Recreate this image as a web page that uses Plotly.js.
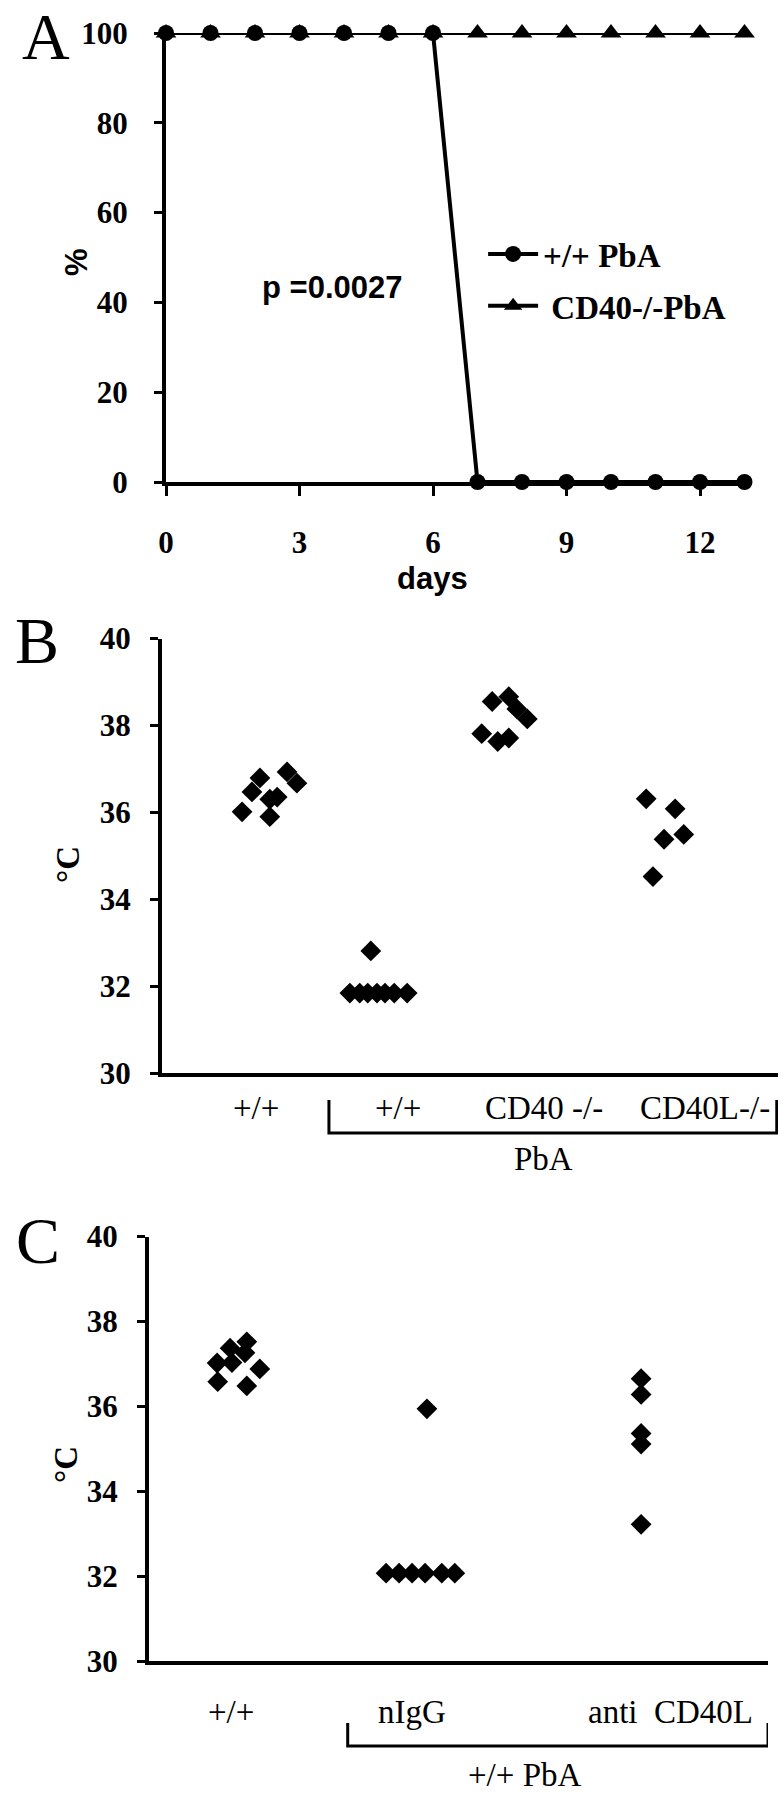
<!DOCTYPE html>
<html>
<head>
<meta charset="utf-8">
<script src="https://cdn.plot.ly/plotly-3.0.1.min.js"></script>
<style>
  body { margin: 0; background: #fff; }
  #chart { width: 783px; height: 1800px; }
</style>
</head>
<body>
<div id="chart"></div>
<script>
// Panel A: survival (%) by day
const days = [0, 1, 2, 3, 4, 5, 6, 7, 8, 9, 10, 11, 12, 13];
const wtSurvival = [100, 100, 100, 100, 100, 100, 100, 0, 0, 0, 0, 0, 0, 0];
const cd40Survival = [100, 100, 100, 100, 100, 100, 100, 100, 100, 100, 100, 100, 100, 100];

// Panel B: body temperature (°C), x = position along the axis (0-10)
const bCtrlX = [1.30, 1.46, 1.59, 1.75, 1.75, 1.87, 2.03, 2.19];
const bCtrlT = [36.01, 36.47, 36.79, 35.90, 36.30, 36.35, 36.93, 36.67];
const bWtX = [3.39, 3.05, 3.21, 3.34, 3.49, 3.62, 3.77, 3.98];
const bWtT = [32.81, 31.84, 31.84, 31.84, 31.84, 31.84, 31.84, 31.84];
const bCd40X = [5.19, 5.36, 5.45, 5.63, 5.63, 5.76, 5.93];
const bCd40T = [37.81, 38.55, 37.63, 38.66, 37.71, 38.38, 38.15];
const bCd40lX = [7.86, 8.33, 8.15, 8.47, 7.97];
const bCd40lT = [36.31, 36.08, 35.38, 35.49, 34.52];
const bLabels = ['+/+', '+/+', 'CD40 -/-', 'CD40L-/-'];
const bLabelX = [1.53, 3.83, 6.20, 8.82];

// Panel C: body temperature (°C)
const cCtrlX = [1.58, 1.31, 1.55, 1.10, 1.34, 1.79, 1.11, 1.58];
const cCtrlT = [37.52, 37.37, 37.26, 37.02, 37.03, 36.88, 36.58, 36.48];
const cIggX = [4.49, 3.83, 4.04, 4.25, 4.46, 4.73, 4.94];
const cIggT = [35.94, 32.07, 32.07, 32.07, 32.07, 32.07, 32.07];
const cAntiX = [7.95, 7.95, 7.95, 7.95, 7.95];
const cAntiT = [36.65, 36.28, 35.36, 35.11, 33.22];
const cLabels = ['+/+', 'nIgG', 'anti  CD40L'];
const cLabelX = [1.32, 4.25, 8.43];

const serif = 'Liberation Serif, Times New Roman, serif';
const sans = 'Liberation Sans, Arial, sans-serif';
const H = 1800;
const py = px => 1 - px / H;

function dots(x, y, xa, ya) {
    return {
        x: x, y: y, xaxis: xa, yaxis: ya,
        type: 'scatter', mode: 'markers', showlegend: false, cliponaxis: false,
        marker: { symbol: 'diamond', size: 16, color: '#000' },
        hoverinfo: 'x+y'
    };
}

const data = [
    {
        x: days, y: wtSurvival, name: '+/+ PbA', legendgroup: 'a',
        type: 'scatter', mode: 'lines+markers', cliponaxis: false,
        line: { color: '#000', width: 4 },
        marker: { symbol: 'circle', size: 16, color: '#000' }
    },
    {
        x: days, y: cd40Survival, name: ' CD40-/-PbA', legendgroup: 'b',
        type: 'scatter', mode: 'lines+markers', cliponaxis: false,
        line: { color: '#000', width: 4 },
        marker: { symbol: 'triangle-up', size: 18, color: '#000' }
    },
    dots(bCtrlX, bCtrlT, 'x2', 'y2'),
    dots(bWtX, bWtT, 'x2', 'y2'),
    dots(bCd40X, bCd40T, 'x2', 'y2'),
    dots(bCd40lX, bCd40lT, 'x2', 'y2'),
    dots(cCtrlX, cCtrlT, 'x3', 'y3'),
    dots(cIggX, cIggT, 'x3', 'y3'),
    dots(cAntiX, cAntiT, 'x3', 'y3')
];

const tickFont = { family: serif, size: 31, color: '#000', weight: 'bold' };
const axisLine = { showline: true, linecolor: '#000', linewidth: 4, showgrid: false, zeroline: false };

const layout = {
    width: 783, height: 1800,
    margin: { l: 0, r: 0, t: 0, b: 0 },
    paper_bgcolor: '#fff', plot_bgcolor: '#fff',
    showlegend: true,
    legend: {
        x: 0.617, y: py(226), xanchor: 'left', yanchor: 'top',
        font: { family: serif, size: 33, color: '#000', weight: 'bold' },
        tracegroupgap: 6, itemwidth: 50, bgcolor: 'rgba(0,0,0,0)'
    },
    xaxis: Object.assign({}, axisLine, {
        domain: [166 / 783, 744.5 / 783], anchor: 'y', range: [0, 13],
        tickvals: [0, 3, 6, 9, 12], ticks: 'outside', ticklen: 10, tickwidth: 3,
        tickcolor: '#000', tickfont: tickFont, ticklabelstandoff: 20
    }),
    yaxis: Object.assign({}, axisLine, {
        domain: [py(482), py(33)], anchor: 'x', range: [0, 100],
        tickvals: [0, 20, 40, 60, 80, 100], ticks: 'outside', ticklen: 8, tickwidth: 3,
        tickcolor: '#000', tickfont: tickFont, ticklabelstandoff: 20
    }),
    xaxis2: Object.assign({}, axisLine, {
        domain: [162 / 783, 778 / 783], anchor: 'y2', range: [0, 10],
        showticklabels: false, ticks: ''
    }),
    yaxis2: Object.assign({}, axisLine, {
        domain: [py(1073), py(638.5)], anchor: 'x2', range: [30, 40],
        tickvals: [30, 32, 34, 36, 38, 40], ticks: 'outside', ticklen: 8, tickwidth: 3,
        tickcolor: '#000', tickfont: tickFont, ticklabelstandoff: 13
    }),
    xaxis3: Object.assign({}, axisLine, {
        domain: [149 / 783, 768 / 783], anchor: 'y3', range: [0, 10],
        showticklabels: false, ticks: ''
    }),
    yaxis3: Object.assign({}, axisLine, {
        domain: [py(1661), py(1236.5)], anchor: 'x3', range: [30, 40],
        tickvals: [30, 32, 34, 36, 38, 40], ticks: 'outside', ticklen: 8, tickwidth: 3,
        tickcolor: '#000', tickfont: tickFont, ticklabelstandoff: 13
    }),
    shapes: [
        {
            type: 'path', xref: 'x2', yref: 'paper',
            path: 'M2.71,' + py(1100) + ' L2.71,' + py(1133) + ' L9.98,' + py(1133) + ' L9.98,' + py(1100),
            line: { color: '#000', width: 3 }
        },
        {
            type: 'path', xref: 'x3', yref: 'paper',
            path: 'M3.21,' + py(1723) + ' L3.21,' + py(1746) + ' L10,' + py(1746) + ' L10,' + py(1723),
            line: { color: '#000', width: 3 }
        }
    ],
    annotations: []
};

function note(text, x, y, font, extra) {
    layout.annotations.push(Object.assign({
        text: text, x: x, y: y, xref: 'paper', yref: 'paper',
        xanchor: 'center', yanchor: 'middle', showarrow: false, font: font
    }, extra || {}));
}

const letterFont = { family: serif, size: 66, color: '#000' };
note('A', 46 / 783, py(36), letterFont);
note('B', 37 / 783, py(640), letterFont);
note('C', 38 / 783, py(1240), letterFont);

note('%', 76 / 783, py(262), { family: sans, size: 31, color: '#000', weight: 'bold' }, { textangle: -90 });
note('days', 432 / 783, py(578), { family: sans, size: 31, color: '#000', weight: 'bold' });
note('p =0.0027', 332 / 783, py(287), { family: sans, size: 31, color: '#000', weight: 'bold' });

const degFont = { family: serif, size: 33, color: '#000', weight: 'bold' };
note('°C', 68 / 783, py(865), degFont, { textangle: -90 });
note('°C', 66 / 783, py(1465), degFont, { textangle: -90 });

const catFont = { family: serif, size: 33, color: '#000' };
bLabels.forEach((t, i) => note(t, bLabelX[i], py(1108), catFont, { xref: 'x2' }));
note('PbA', 6.19, py(1159), catFont, { xref: 'x2' });
cLabels.forEach((t, i) => note(t, cLabelX[i], py(1712), catFont, { xref: 'x3' }));
note('+/+ PbA', 6.07, py(1775), catFont, { xref: 'x3' });

Plotly.newPlot('chart', data, layout, { staticPlot: true });
</script>
</body>
</html>
